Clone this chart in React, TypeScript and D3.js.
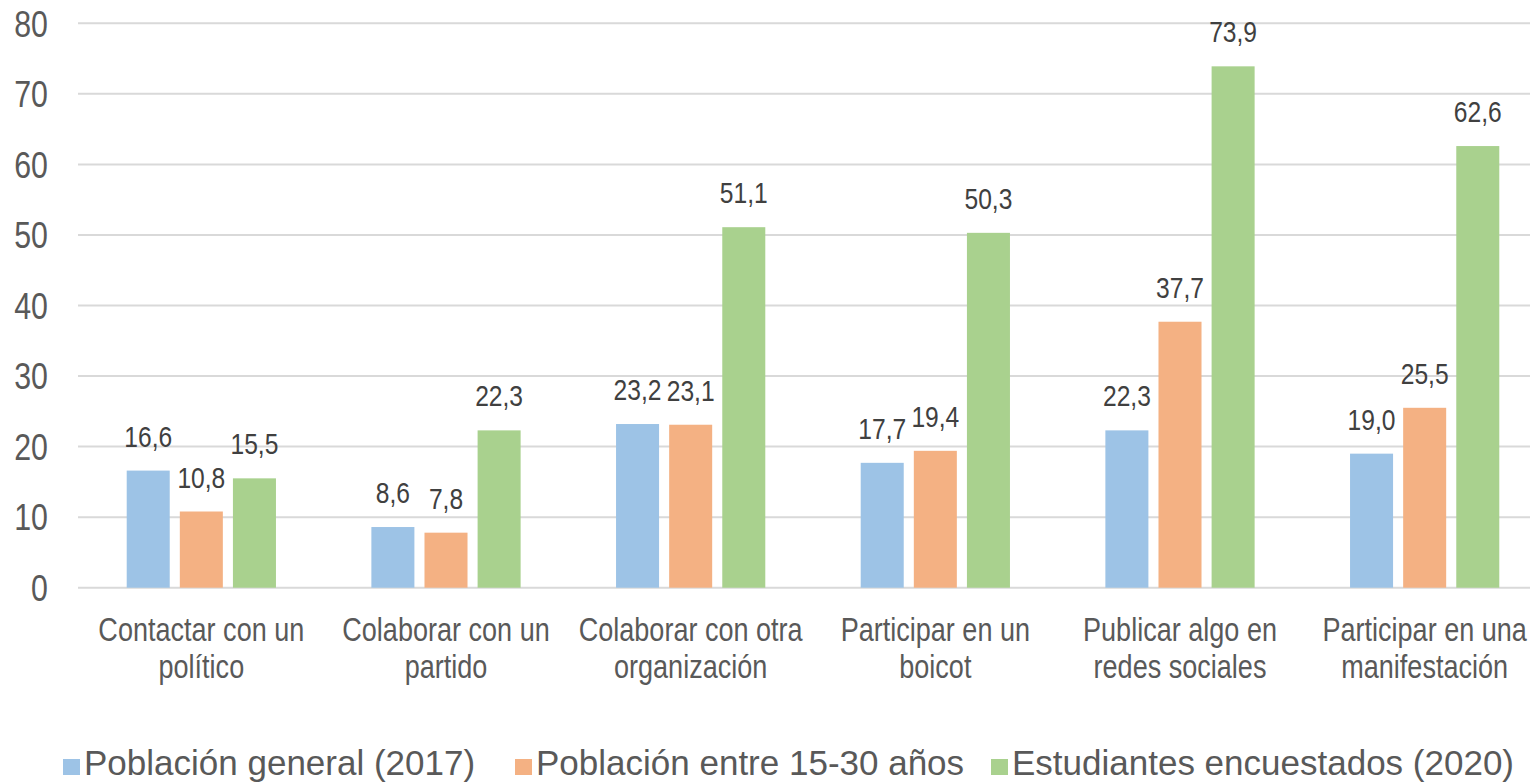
import React, { useEffect, useRef } from "react";
import * as d3 from "d3";

const categories: string[][] = [
  ["Contactar con un", "político"],
  ["Colaborar con un", "partido"],
  ["Colaborar con otra", "organización"],
  ["Participar en un", "boicot"],
  ["Publicar algo en", "redes sociales"],
  ["Participar en una", "manifestación"],
];
const seriesNames = [
  "Población general (2017)",
  "Población entre 15-30 años",
  "Estudiantes encuestados (2020)",
];
const general2017 = [16.6, 8.6, 23.2, 17.7, 22.3, 19.0];
const jovenes = [10.8, 7.8, 23.1, 19.4, 37.7, 25.5];
const estudiantes2020 = [15.5, 22.3, 51.1, 50.3, 73.9, 62.6];
const yTicks = [0, 10, 20, 30, 40, 50, 60, 70, 80];
const colors = ["#9DC3E6", "#F4B183", "#A9D18E"];

const W = 1530;
const H = 783;
const FONT = "'Liberation Sans', Arial, sans-serif";
const NARROW = 0.82;
const LEGEND_X = [63, 515, 991];

export default function App() {
  const ref = useRef<SVGSVGElement>(null);
  useEffect(() => {
    const svg = d3.select(ref.current!);
    svg.selectAll("*").remove();
    const series = [general2017, jovenes, estudiantes2020];
    const idx = d3.range(categories.length);

    const x0 = d3
      .scaleBand<number>()
      .domain(idx)
      .range([79, 1547])
      .paddingInner(0.39)
      .paddingOuter(0.195);
    const x1 = d3
      .scaleBand<number>()
      .domain([0, 1, 2])
      .range([0, x0.bandwidth()])
      .paddingInner(0.19)
      .paddingOuter(0);
    const y = d3.scaleLinear().domain([0, 80]).range([587.7, 23.3]);

    const narrowText = (
      parent: d3.Selection<any, any, any, any>,
      x: number,
      yy: number,
      txt: string,
      size: number,
      fill: string,
      anchor: string,
      dy = "0"
    ) =>
      parent
        .append("text")
        .attr("transform", `translate(${x},${yy}) scale(${NARROW},1)`)
        .attr("dy", dy)
        .attr("text-anchor", anchor)
        .attr("font-family", FONT)
        .attr("font-size", size)
        .attr("fill", fill)
        .text(txt);

    // gridlines
    svg
      .append("g")
      .selectAll("line")
      .data(yTicks)
      .join("line")
      .attr("x1", 78)
      .attr("x2", W)
      .attr("y1", (d) => y(d))
      .attr("y2", (d) => y(d))
      .attr("stroke", "#d9d9d9")
      .attr("stroke-width", 2);

    // y tick labels
    const yg = svg.append("g");
    yTicks.forEach((t) => {
      narrowText(yg, 48, y(t), String(t), 37, "#595959", "end", "0.36em");
    });

    // bars
    series.forEach((vals, s) => {
      const g = svg.append("g");
      g.selectAll("rect")
        .data(vals)
        .join("rect")
        .attr("x", (_d, i) => x0(i)! + x1(s)!)
        .attr("y", (d) => y(d))
        .attr("width", x1.bandwidth())
        .attr("height", (d) => y(0) - y(d))
        .attr("fill", colors[s]);
      vals.forEach((v, i) => {
        narrowText(
          g,
          x0(i)! + x1(s)! + x1.bandwidth() / 2,
          y(v) - 24,
          v.toFixed(1).replace(".", ","),
          30,
          "#404040",
          "middle"
        );
      });
    });

    // category labels
    const cg = svg.append("g");
    categories.forEach((lines, i) => {
      const cx = x0(i)! + x0.bandwidth() / 2;
      lines.forEach((ln, k) => {
        narrowText(cg, cx, 641 + k * 37, ln, 33, "#595959", "middle");
      });
    });

    // legend
    const lg = svg.append("g");
    seriesNames.forEach((name, s) => {
      const lx = LEGEND_X[s];
      lg.append("rect")
        .attr("x", lx)
        .attr("y", 759)
        .attr("width", 17)
        .attr("height", 16)
        .attr("fill", colors[s]);
      lg.append("text")
        .attr("x", lx + 21)
        .attr("y", 775)
        .attr("font-family", FONT)
        .attr("font-size", 35)
        .attr("fill", "#595959")
        .text(name);
    });
  }, []);

  return (
    <svg
      ref={ref}
      width={W}
      height={H}
      style={{ position: "absolute", left: 0, top: 0, background: "#fff" }}
    />
  );
}
